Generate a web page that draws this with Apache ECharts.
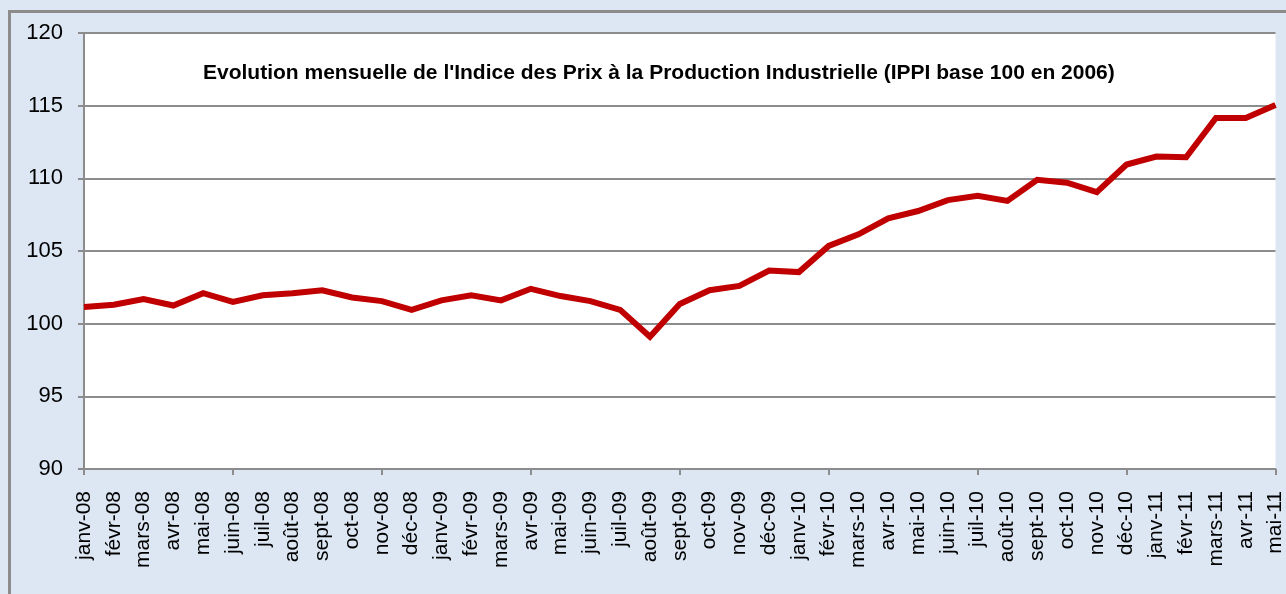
<!DOCTYPE html>
<html>
<head>
<meta charset="utf-8">
<script src="https://cdn.jsdelivr.net/npm/echarts@6/dist/echarts.min.js"></script>
<style>
html,body{margin:0;padding:0;background:#dce7f3;}
#c{width:1286px;height:594px;}
</style>
</head>
<body>
<div id="c"></div>
<script>
const titleText = "Evolution mensuelle de l'Indice des Prix à la Production Industrielle (IPPI base 100 en 2006)";
const months = ["janv-08","févr-08","mars-08","avr-08","mai-08","juin-08","juil-08","août-08","sept-08","oct-08","nov-08","déc-08",
"janv-09","févr-09","mars-09","avr-09","mai-09","juin-09","juil-09","août-09","sept-09","oct-09","nov-09","déc-09",
"janv-10","févr-10","mars-10","avr-10","mai-10","juin-10","juil-10","août-10","sept-10","oct-10","nov-10","déc-10",
"janv-11","févr-11","mars-11","avr-11","mai-11"];
const ippi = [101.15,101.3,101.7,101.25,102.1,101.5,101.95,102.1,102.3,101.8,101.55,100.95,
101.6,101.95,101.6,102.4,101.9,101.55,100.95,99.1,101.35,102.3,102.6,103.65,
103.55,105.35,106.15,107.25,107.75,108.5,108.8,108.45,109.9,109.7,109.05,110.95,
111.5,111.45,114.15,114.15,115.05];
const yMin = 90, yMax = 120, yStep = 5;

const chart = echarts.init(document.getElementById('c'), null, {renderer:'canvas'});
chart.setOption({
  backgroundColor: '#dce7f3',
  animation: false,
  graphic: [
    {type:'rect', shape:{x:9.5, y:11.5, width:1300, height:600}, style:{fill:'none', stroke:'#8c8c8c', lineWidth:3}, z:-1},
    {type:'text', left:203, top:63, style:{text:titleText, font:'bold 21px "Liberation Sans", Arial, sans-serif', fill:'#000'}, z:10}
  ],
  grid: {left:84, top:33, width:1195, height:436, show:true, backgroundColor:'#ffffff', borderWidth:0, containLabel:false},
  xAxis: {
    type:'category', data: months, boundaryGap:false,
    axisLine:{show:true, lineStyle:{color:'#8c8c8c', width:2}},
    axisTick:{show:true, interval:4, length:6, lineStyle:{color:'#8c8c8c', width:2}},
    axisLabel:{interval:0, rotate:90, color:'#000', fontSize:21, fontFamily:'"Liberation Sans", Arial, sans-serif', margin:22},
    splitLine:{show:false}
  },
  yAxis: {
    type:'value', min:yMin, max:yMax, interval:yStep,
    axisLine:{show:true, lineStyle:{color:'#8c8c8c', width:2}},
    axisTick:{show:true, length:6, lineStyle:{color:'#8c8c8c', width:2}},
    axisLabel:{color:'#000', fontSize:22, fontFamily:'"Liberation Sans", Arial, sans-serif', margin:21},
    splitLine:{show:true, lineStyle:{color:'#8c8c8c', width:2}}
  },
  series: [{
    type:'line', data: ippi, symbol:'none', smooth:false,
    lineStyle:{color:'#c00000', width:6, join:'miter'}
  }]
});
</script>
</body>
</html>
